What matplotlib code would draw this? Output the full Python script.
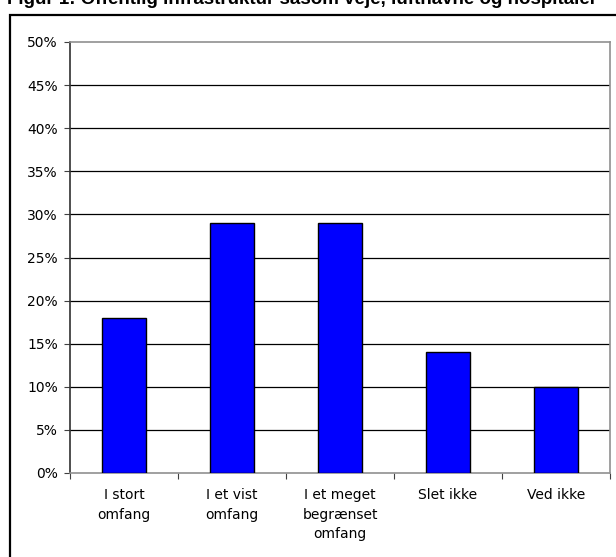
import matplotlib.pyplot as plt
import numpy as np
from matplotlib.patches import Rectangle
from matplotlib.ticker import FuncFormatter, MultipleLocator

categories = ["I stort\nomfang", "I et vist\nomfang", "I et meget\nbegrænset\nomfang",
              "Slet ikke", "Ved ikke"]
values = [18, 29, 29, 14, 10]
title = "Figur 1: Offentlig infrastruktur såsom veje, lufthavne og hospitaler"

W, H = 616, 557
fig = plt.figure(figsize=(W / 100, H / 100), dpi=100)

# outer frame (runs off the right and bottom edge)
fig.patches.append(Rectangle((9.5 / W, -0.05), 1.0, 1 - 15 / H + 0.05, transform=fig.transFigure,
                             fill=False, edgecolor='black', linewidth=1.6))

# title is cut at the top edge, as in the source
fig.text(7 / W, 1 - 4.5 / H, title, fontsize=13.5, fontweight='bold',
         family='Liberation Sans', ha='left', va='baseline')

ax = fig.add_axes([70 / W, 1 - 473 / H, 540 / W, 431 / H])
ind = np.arange(len(values))
ax.bar(ind, values, 0.4, color='#0000ff', edgecolor='black', linewidth=1, zorder=3)

ax.set_xlim(-0.5, len(values) - 0.5)
ax.set_ylim(0, 50)
ax.yaxis.set_major_locator(MultipleLocator(5))
ax.yaxis.set_major_formatter(FuncFormatter(lambda v, p: "%d%%" % v))
for y in range(5, 50, 5):
    ax.axhline(y, color='black', linewidth=0.9, zorder=1)

ax.set_xticks(np.arange(-0.5, len(values)))
ax.set_xticklabels([])
ax.set_xticks(ind, minor=True)
ax.set_xticklabels(categories, minor=True, fontsize=10, family='DejaVu Sans', linespacing=1.5)
ax.tick_params(axis='x', which='minor', length=0, pad=11)
ax.tick_params(axis='x', which='major', length=4.5, color='#404040')
ax.tick_params(axis='y', length=4.3, labelsize=10, color='#404040', pad=4.3)

for s in ax.spines.values():
    s.set_color('#909090')
    s.set_linewidth(1.2)
ax.spines['left'].set_color('#303030')

fig.savefig("out.png", dpi=100)
